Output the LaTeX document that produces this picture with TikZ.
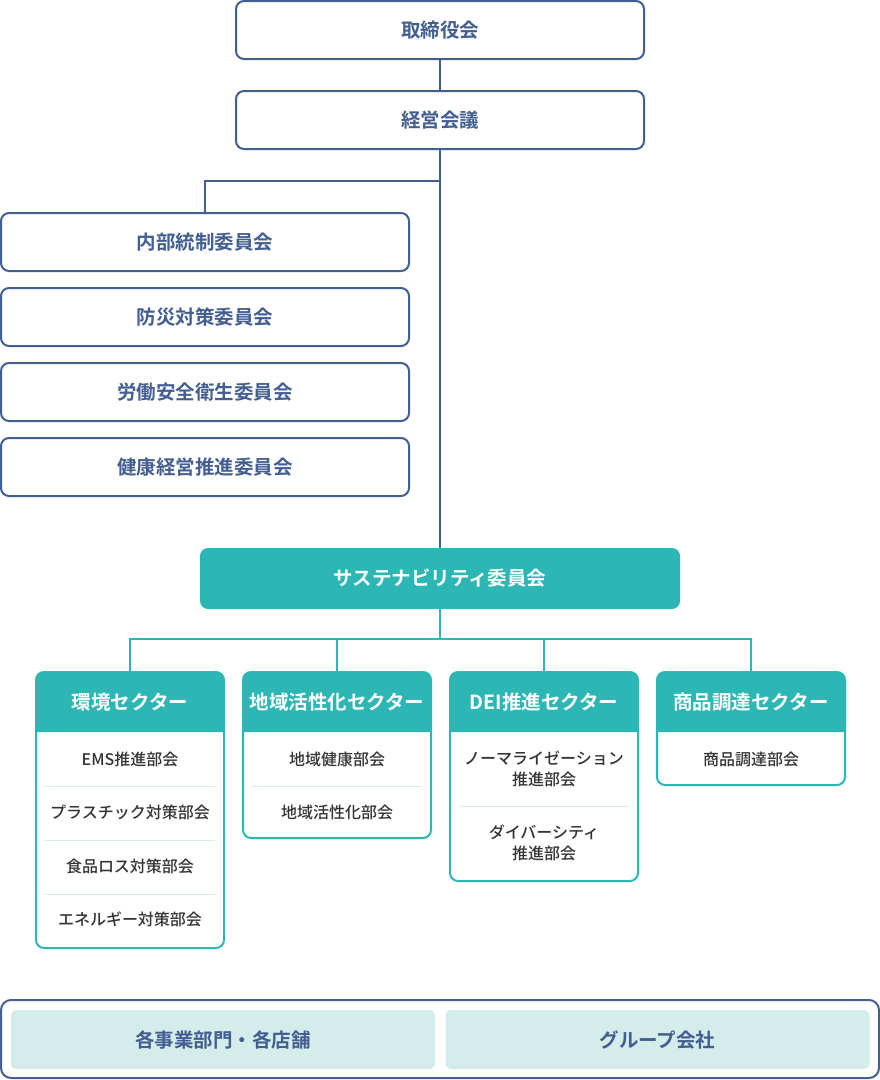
\documentclass[tikz,border=0pt]{standalone}
\usepackage{fontspec}
\newfontfamily\jp{Noto Sans CJK JP}[BoldFont={Noto Sans CJK JP Bold}]
\newfontfamily\jpm{Noto Sans CJK JP Medium}
\definecolor{navy}{HTML}{435E91}
\definecolor{teal}{HTML}{2CB7B4}
\definecolor{pale}{HTML}{D4ECEA}
\definecolor{ink}{HTML}{333333}
\tikzset{
  x=1pt, y=-1pt,
  navybox/.style={draw=navy, line width=2pt, rounded corners=8pt, fill=white,
    minimum width=408pt, minimum height=58pt, inner sep=0pt,
    text=navy, font=\jp\bfseries\fontsize{19.5}{22}\selectfont},
  navyline/.style={draw=navy, line width=2pt},
  tealline/.style={draw=teal, line width=2pt},
  susbox/.style={fill=teal, rounded corners=8pt, minimum width=480pt, minimum height=61pt,
    inner sep=0pt, text=white, font=\jp\bfseries\fontsize{19.5}{22}\selectfont},
  sectbox/.style={draw=teal, line width=2pt, rounded corners=8pt, minimum width=188pt, inner sep=0pt},
  secthead/.style={text=white, font=\jp\bfseries\fontsize{19.5}{22}\selectfont, inner sep=0pt},
  item/.style={text=ink, font=\jpm\fontsize{16}{21}\selectfont, align=center, inner sep=0pt},
  sep/.style={draw=pale, line width=1pt},
  basebox/.style={fill=pale, rounded corners=5pt, minimum width=424pt, minimum height=59pt,
    inner sep=0pt, text=navy, font=\jp\bfseries\fontsize{19.5}{22}\selectfont},
}
\begin{document}
\begin{tikzpicture}
\useasboundingbox (0,0) rectangle (880,1080);
% top
\node[navybox] (tori) at (440,30) {取締役会};
\node[navybox] (keiei) at (440,120) {経営会議};
\node[navybox] (naibu) at (205,242) {内部統制委員会};
\node[navybox] (bousai) at (205,317) {防災対策委員会};
\node[navybox] (roudou) at (205,392) {労働安全衛生委員会};
\node[navybox] (kenkou) at (205,467) {健康経営推進委員会};
\node[susbox] (sus) at (440,578.5) {サステナビリティ委員会};
\coordinate (j1) at (440,181);
\coordinate (tj) at (440,639);
\draw[navyline] (tori.south) -- (keiei.north);
\draw[navyline] (keiei.south) -- (sus.north);
\draw[navyline] (j1) -| (naibu.north);
% sector boxes
\foreach \n/\cx/\bot in {s1/130/948, s2/337/838, s3/544/881, s4/751/785}{
  \fill[teal] (\cx-94,732) [rounded corners=8pt] -- (\cx-94,672) -- (\cx+94,672) [sharp corners] -- (\cx+94,732) -- cycle;
  \node[sectbox, minimum height={\bot-672}] (\n) at (\cx,{(672+\bot)/2}) {};
}
\node[secthead] (h1) at (130,702) {環境セクター};
\node[secthead] (h2) at (337,702) {地域活性化セクター};
\node[secthead] (h3) at (544,702) {DEI推進セクター};
\node[secthead] (h4) at (751,702) {商品調達セクター};
% items sector 1
\node[item] (i11) at (130,759) {EMS推進部会};
\draw[sep] (45,786) -- (215,786);
\node[item] (i12) at (130,812.5) {プラスチック対策部会};
\draw[sep] (45,840) -- (215,840);
\node[item] (i13) at (130,866) {食品ロス対策部会};
\draw[sep] (45,894) -- (215,894);
\node[item] (i14) at (130,919.5) {エネルギー対策部会};
% sector 2
\node[item] (i21) at (337,759) {地域健康部会};
\draw[sep] (252,786) -- (422,786);
\node[item] (i22) at (337,812.5) {地域活性化部会};
% sector 3
\node[item] (i31) at (544,769) {ノーマライゼーション\\推進部会};
\draw[sep] (459,806) -- (629,806);
\node[item] (i32) at (544,843) {ダイバーシティ\\推進部会};
% sector 4
\node[item] (i41) at (751,759) {商品調達部会};
% teal connectors
\draw[tealline] (sus.south) -- (tj);
\draw[tealline] (s1.north) |- (tj);
\draw[tealline] (tj) -| (s4.north);
\draw[tealline] (s2.north) -- (s2.north |- tj);
\draw[tealline] (s3.north) -- (s3.north |- tj);
% bottom
\node[draw=navy, line width=2pt, rounded corners=10pt, minimum width=878pt, minimum height=78pt, inner sep=0pt] (base) at (440,1039) {};
\node[basebox] (jigyou) at (223,1039.5) {各事業部門・各店舗};
\node[basebox] (group) at (657.5,1039.5) {グループ会社};
\end{tikzpicture}
\end{document}
